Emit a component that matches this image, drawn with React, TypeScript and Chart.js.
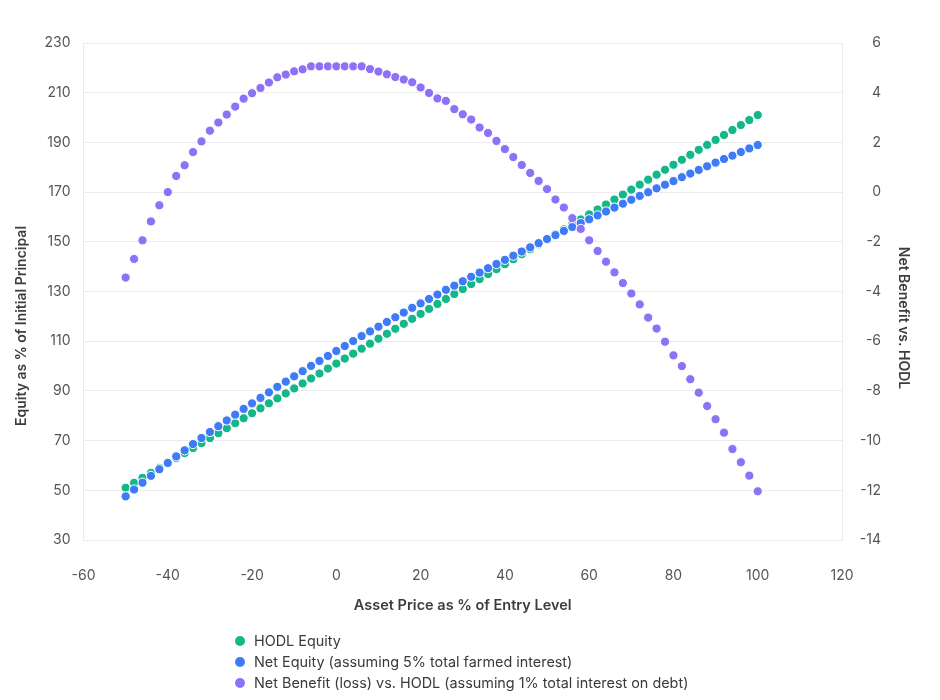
import { useEffect, useRef } from "react";
import { Chart, registerables } from "chart.js";

Chart.register(...registerables);

// Asset price relative to entry (%), sampled every 2 points
const assetPrice = [
  -50, -48, -46, -44, -42, -40, -38, -36, -34, -32, -30, -28, -26, -24, -22, -20, -18, -16, -14, -12,
  -10, -8, -6, -4, -2, 0, 2, 4, 6, 8, 10, 12, 14, 16, 18, 20, 22, 24, 26, 28,
  30, 32, 34, 36, 38, 40, 42, 44, 46, 48, 50, 52, 54, 56, 58, 60, 62, 64, 66, 68,
  70, 72, 74, 76, 78, 80, 82, 84, 86, 88, 90, 92, 94, 96, 98, 100,
];

// Equity as % of initial principal when simply holding
const hodlEquity = [
  51, 53, 55, 57, 59, 61, 63, 65, 67, 69, 71, 73, 75, 77, 79, 81, 83, 85, 87, 89,
  91, 93, 95, 97, 99, 101, 103, 105, 107, 109, 111, 113, 115, 117, 119, 121, 123, 125, 127, 129,
  131, 133, 135, 137, 139, 141, 143, 145, 147, 149, 151, 153, 155, 157, 159, 161, 163, 165, 167, 169,
  171, 173, 175, 177, 179, 181, 183, 185, 187, 189, 191, 193, 195, 197, 199, 201,
];

// Equity of the farming position, 5% total farmed interest
const netEquity = [
  47.56, 50.31, 53.06, 55.82, 58.47, 61.0, 63.65, 66.08, 68.61, 71.04, 73.47, 75.8, 78.12, 80.44, 82.76, 84.98, 87.19, 89.41, 91.62, 93.73,
  95.86, 97.94, 100.06, 102.06, 104.06, 106.06, 108.06, 110.06, 112.06, 113.95, 115.85, 117.74, 119.63, 121.53, 123.42, 125.21, 126.99, 128.77, 130.67, 132.34,
  134.13, 135.92, 137.6, 139.38, 141.06, 142.73, 144.41, 146.09, 147.77, 149.45, 151.12, 152.7, 154.38, 155.95, 157.52, 159.06, 160.63, 162.2, 163.77, 165.34,
  166.92, 168.48, 169.95, 171.51, 172.98, 174.43, 176.0, 177.47, 178.93, 180.39, 181.86, 183.32, 184.66, 186.13, 187.59, 188.96,
];

// Net benefit (loss) versus holding, 1% total interest on debt (right axis)
const netBenefit = [
  -3.44, -2.69, -1.94, -1.18, -0.53, 0.0, 0.65, 1.08, 1.61, 2.04, 2.47, 2.8, 3.12, 3.44, 3.76, 3.98, 4.19, 4.41, 4.62, 4.73,
  4.86, 4.94, 5.06, 5.06, 5.06, 5.06, 5.06, 5.06, 5.06, 4.95, 4.85, 4.74, 4.63, 4.53, 4.42, 4.21, 3.99, 3.77, 3.67, 3.34,
  3.13, 2.92, 2.6, 2.38, 2.06, 1.73, 1.41, 1.09, 0.77, 0.45, 0.12, -0.3, -0.62, -1.05, -1.48, -1.94, -2.37, -2.8, -3.23, -3.66,
  -4.08, -4.52, -5.05, -5.49, -6.02, -6.57, -7.0, -7.53, -8.07, -8.61, -9.14, -9.68, -10.34, -10.87, -11.41, -12.04,
];

const seriesLabels = [
  "HODL Equity",
  "Net Equity (assuming 5% total farmed interest)",
  "Net Benefit (loss) vs. HODL (assuming 1% total interest on debt)",
];
const seriesColors = ["#14b78a", "#3f7bf6", "#8d72f7"];

const xTitle = "Asset Price as % of Entry Level";
const yLeftTitle = "Equity as % of Initial Principal";
const yRightTitle = "Net Benefit vs. HODL";

const FONT = "Inter, 'Noto Sans', sans-serif";
const TITLE_COLOR = "#3d3d3d";
const TICK_COLOR = "#555555";
const GRID_COLOR = "#ebebeb";

const toPoints = (ys: number[]) => assetPrice.map((x, i) => ({ x, y: ys[i] }));

// Vertical axis titles, placed a little below the plot's mid-height
const sideTitles = {
  id: "sideTitles",
  afterDraw(chart: any) {
    const { ctx } = chart;
    ctx.save();
    ctx.font = `600 14px ${FONT}`;
    ctx.fillStyle = TITLE_COLOR;
    ctx.textAlign = "center";
    ctx.textBaseline = "middle";

    ctx.save();
    ctx.translate(22, 326);
    ctx.rotate(-Math.PI / 2);
    ctx.fillText(yLeftTitle, 0, 0);
    ctx.restore();

    ctx.save();
    ctx.translate(903, 318);
    ctx.rotate(Math.PI / 2);
    ctx.fillText(yRightTitle, 0, 0);
    ctx.restore();

    ctx.restore();
  },
};

export default function App() {
  const canvasRef = useRef<HTMLCanvasElement | null>(null);

  useEffect(() => {
    if (!canvasRef.current) return;
    const pointStyle = (color: string) => ({
      backgroundColor: color,
      borderColor: "#ffffff",
      borderWidth: 1,
      pointRadius: 4.6,
      pointHoverRadius: 4.6,
      showLine: false,
    });

    const chart = new Chart(canvasRef.current, {
      type: "scatter",
      data: {
        datasets: [
          { label: seriesLabels[0], data: toPoints(hodlEquity), yAxisID: "y", order: 3, ...pointStyle(seriesColors[0]) },
          { label: seriesLabels[1], data: toPoints(netEquity), yAxisID: "y", order: 2, ...pointStyle(seriesColors[1]) },
          { label: seriesLabels[2], data: toPoints(netBenefit), yAxisID: "y1", order: 1, ...pointStyle(seriesColors[2]) },
        ],
      },
      options: {
        responsive: false,
        animation: false,
        devicePixelRatio: 1,
        layout: { padding: { left: 9.6, right: 59, top: 43, bottom: 80 } },
        plugins: {
          legend: { display: false },
          tooltip: { enabled: false },
        },
        scales: {
          x: {
            type: "linear",
            min: -60,
            max: 120,
            ticks: { stepSize: 20, padding: 27, color: TICK_COLOR, font: { family: FONT, size: 14 } },
            grid: { display: false, drawTicks: false },
            border: { display: false },
            title: {
              display: true,
              text: xTitle,
              color: TITLE_COLOR,
              font: { family: FONT, size: 14.5, weight: "600" },
              padding: { top: 0, bottom: 5.4 },
            },
            afterFit(scale: any) {
              scale.height = 80;
            },
          },
          y: {
            type: "linear",
            position: "left",
            min: 30,
            max: 230,
            ticks: { stepSize: 20, padding: 13, color: TICK_COLOR, font: { family: FONT, size: 14 } },
            grid: { color: GRID_COLOR, drawTicks: false },
            border: { color: GRID_COLOR },
            afterFit(scale: any) {
              scale.width = 73.9;
            },
          },
          y1: {
            type: "linear",
            position: "right",
            min: -14,
            max: 6,
            ticks: { stepSize: 2, crossAlign: "far", color: TICK_COLOR, font: { family: FONT, size: 14 } },
            grid: { display: false, drawTicks: false },
            border: { color: GRID_COLOR },
            afterFit(scale: any) {
              scale.width = 39;
            },
          },
        },
      },
      plugins: [sideTitles],
    });

    return () => chart.destroy();
  }, []);

  return (
    <div style={{ position: "fixed", left: 0, top: 0, width: 940, height: 700, background: "#ffffff" }}>
      <canvas ref={canvasRef} width={940} height={700} style={{ display: "block" }} />
      <div
        style={{
          position: "absolute",
          left: 235,
          top: 630,
          fontFamily: FONT,
          fontSize: 14.4,
          color: "#3a3a3a",
          lineHeight: "21px",
        }}
      >
        {seriesLabels.map((label, i) => (
          <div key={label} style={{ display: "flex", alignItems: "center", whiteSpace: "nowrap" }}>
            <span
              style={{
                display: "inline-block",
                width: 10,
                height: 10,
                borderRadius: "50%",
                background: seriesColors[i],
                marginRight: 9,
              }}
            />
            {label}
          </div>
        ))}
      </div>
    </div>
  );
}
